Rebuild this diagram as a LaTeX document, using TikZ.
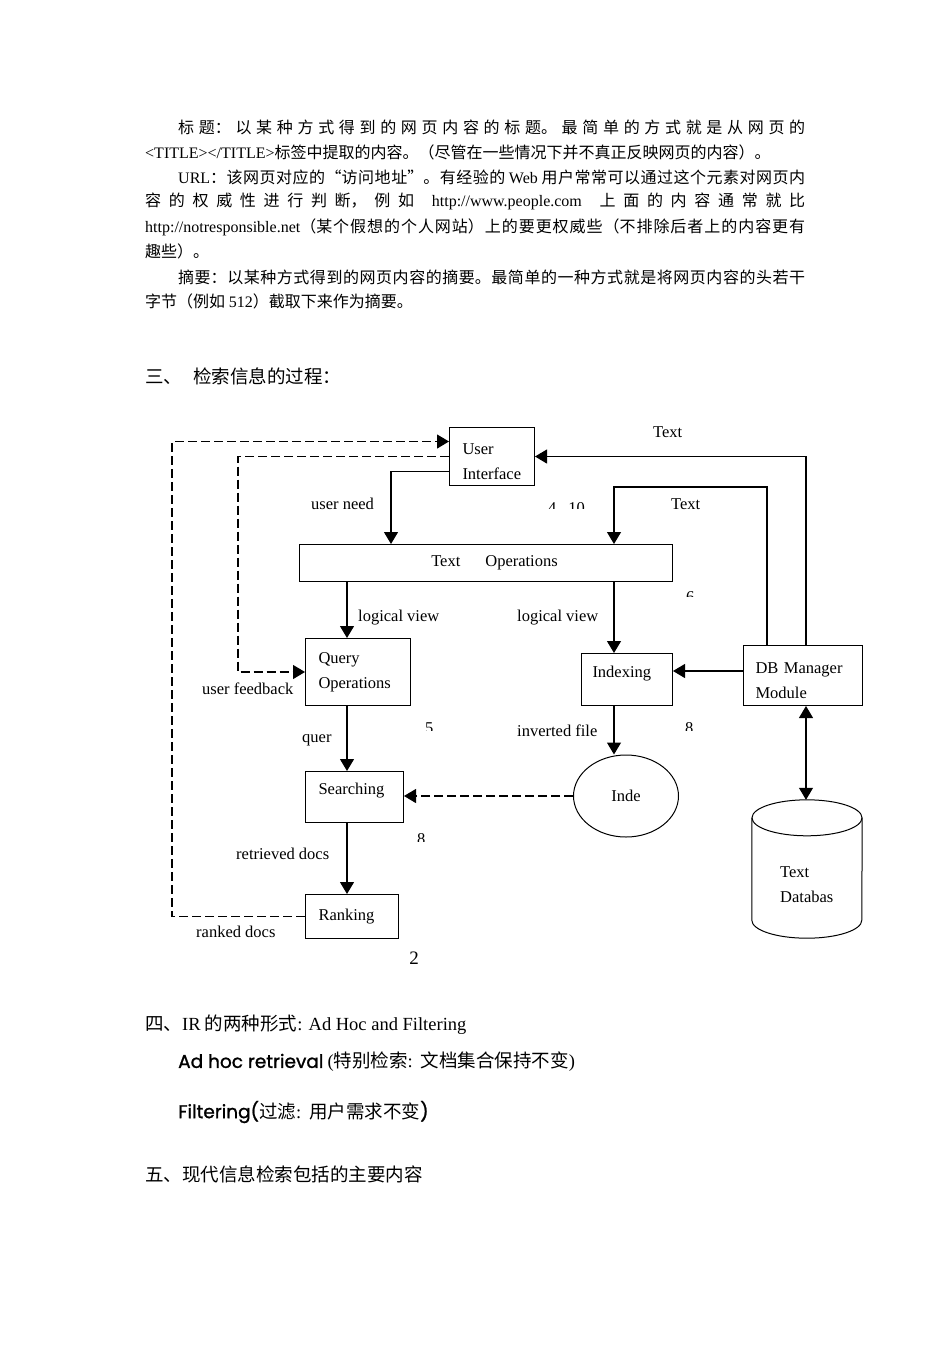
\documentclass[tikz,border=0pt]{standalone}
\usepackage{fontspec}
\setmainfont{Noto Sans CJK SC}
\newfontfamily\enf{Liberation Serif}
\newfontfamily\comic{Poppins}[FakeBold=1.2]
\usetikzlibrary{arrows.meta,calc,shapes.geometric}
\newcommand\en[1]{\mbox{\enf #1}}
\newcommand\dfont{\enf\fontsize{16.5}{25}\selectfont}
\newcommand\bfont{\fontsize{16}{25}\selectfont}
\newcommand\jl[2]{\parbox{#1}{\XeTeXlinebreaklocale "zh"\XeTeXlinebreakskip=0pt plus 8pt minus 0.5pt\relax\tolerance=10000\hbadness=10000\parfillskip=0pt\relax\noindent #2}}
\newcommand\frag[6]{\begin{scope}\clip (#2-2,#3) rectangle (#2+60,#3+#5);
  \node[anchor=north west,inner sep=0pt,font=\dfont] (#1) at (#2+#6,#3) {#4};\end{scope}}
\tikzset{
  box/.style={draw, line width=1pt, inner ysep=0pt, font=\dfont, align=left, anchor=north west},
  lbl/.style={font=\dfont, inner sep=0pt, anchor=west},
  conn/.style={line width=1.1pt, -{Triangle[length=12pt,width=14pt]}},
  dconn/.style={conn, dash pattern=on 9pt off 4pt},
  body/.style={font=\bfont, inner sep=0pt, anchor=west},
  head/.style={font=\fontsize{18.5}{22}\selectfont, inner sep=0pt, anchor=west},
}
\begin{document}
\begin{tikzpicture}[x=1pt,y=-1pt]
\fill[white] (0,0) rectangle (950,1345);
\useasboundingbox (0,0) rectangle (950,1345);

% ---------- body text ----------
\node[body] (l1) at (178,127) {\jl{627pt}{标题：以某种方式得到的网页内容的标题。最简单的方式就是从网页的}};
\node[body] (l2) at (145,152) {\en{<TITLE></TITLE>}标签中提取的内容。（尽管在一些情况下并不真正反映网页的内容）。};
\node[body] (l3) at (178,177) {\jl{627pt}{\en{URL}：该网页对应的“访问地址”。有经验的 \en{Web} 用户常常可以通过这个元素对网页内}};
\node[body] (l4) at (145,201) {\jl{660pt}{容的权威性进行判断，例如\hspace{12pt plus 6pt}\en{http://www.people.com}\hspace{12pt plus 6pt}上面的内容通常就比}};
\node[body] (l5) at (145,227) {\jl{660pt}{\en{http://notresponsible.net}（某个假想的个人网站）上的要更权威些（不排除后者上的内容更有}};
\node[body] (l6) at (145,251) {趣些）。};
\node[body] (l7) at (178,277) {\jl{627pt}{摘要：以某种方式得到的网页内容的摘要。最简单的一种方式就是将网页内容的头若干}};
\node[body] (l8) at (145,301) {字节（例如 \en{512}）截取下来作为摘要。};

\node[head] (h3) at (145,376) {三、\hspace{11pt}检索信息的过程：};

% ---------- diagram boxes ----------
\node[box, text width=59pt, inner xsep=13pt, minimum height=58pt] (ui) at (449,427) {\rule{0pt}{20.5pt}User\\Interface};
\node[box, text width=353pt, inner xsep=10pt, minimum height=37pt, align=center] (to) at (299,544) {\hspace*{17pt}Text\hspace{25pt}Operations};
\node[box, text width=79pt, inner xsep=13pt, minimum height=67pt] (qo) at (305,638) {Query\\Operations};
\node[box, text width=72pt, inner xsep=13pt, minimum height=51pt] (srch) at (305,771) {Searching\\[-8pt]\mbox{}};
\node[box, text width=67pt, inner xsep=13pt, minimum height=44pt] (rank) at (305,894) {Ranking};
\node[box, text width=69pt, inner xsep=11pt, minimum height=52pt] (idx) at (581,653) {Indexing\rule[-15pt]{0pt}{0pt}};
\node[box, text width=95pt, inner xsep=12pt, minimum height=60pt] (dbm) at (743,645) {\rule{0pt}{20.5pt}DB Manager\\Module};
\node[draw, ellipse, line width=1pt, minimum width=105pt, minimum height=82pt, inner sep=0pt, font=\dfont] (inde) at (626,796) {Inde};

% text database cylinder
\node[minimum width=110pt, minimum height=138pt, inner sep=0pt] (tdb) at (807,869) {};
\draw[line width=1pt] ($(tdb.north)+(0,18)$) ellipse [x radius=55pt, y radius=18pt];
\draw[line width=1pt] ($(tdb.north west)+(0,18)$) -- ($(tdb.south west)+(0,-18)$)
   arc[start angle=180, end angle=360, x radius=55pt, y radius=18pt] -- ($(tdb.north east)+(0,18)$);
\node[lbl, align=left] (tdbt) at (780,884.5) {Text\\Databas};

% ---------- helper coordinates ----------
\coordinate (cxa) at (347,0);
\coordinate (cxb) at (614,0);
\coordinate (cxn) at (391,0);
\coordinate (cxd) at (806,0);
\coordinate (cxe) at (767,0);
\coordinate (cyt) at (0,487);
\coordinate (cyd) at (0,671);

% ---------- connectors ----------
\draw[dconn] (rank.west) -- ++(-133,0) |- ([yshift=15pt]ui.west);
\draw[dconn] (ui.west) -- ++(-211,0) |- (qo.west);
\draw[conn] ([yshift=-15pt]ui.west) -| (cxn |- to.north);
\draw[conn] (cxa |- to.south) -- (cxa |- qo.north);
\draw[conn] (cxa |- qo.south) -- (cxa |- srch.north);
\draw[conn] (cxa |- srch.south) -- (cxa |- rank.north);
\draw[conn] (cxb |- to.south) -- (cxb |- idx.north);
\draw[conn] (cxb |- idx.south) -- (cxb |- inde.north);
\draw[conn] (dbm.west |- cyd) -- (idx.east |- cyd);
\draw[dconn] (inde.west) -- (srch.east |- inde.west);
\draw[conn] (cxd |- dbm.north) |- (ui.east);
\draw[conn] (cxe |- dbm.north) |- (cxb |- cyt) -- (cxb |- to.north);
\draw[line width=1.1pt, {Triangle[length=12pt,width=14pt]}-{Triangle[length=12pt,width=14pt]}] (cxd |- dbm.south) -- (cxd |- tdb.north);

% ---------- labels ----------
\node[lbl] (t1) at (653,432) {Text};
\node[lbl] (t2) at (671,504) {Text};
\node[lbl] (un) at (311,504) {user need};
\node[lbl] (lv1) at (358,618) {logical view};
\node[lbl] (lv2) at (517,618) {logical view};
\node[lbl] (uf) at (202,689) {user feedback};
\node[lbl] (qr) at (302,740) {quer};
\node[lbl] (inv) at (517,731) {inverted file};
\node[lbl] (rd) at (236,854) {retrieved docs};
\node[lbl] (rk) at (196,932) {ranked docs};
\node[font=\enf\fontsize{19}{19}\selectfont, inner sep=0pt] (pg) at (414,958) {2};

% clipped fragments of numbers
\frag{f1}{548}{502}{4\hspace{12pt}10}{6}{0}
\frag{f2}{686}{591}{6}{5}{0}
\frag{f3}{425}{722}{5}{8}{0}
\frag{f4}{685}{722}{8}{8}{0}
\frag{f5}{417}{833}{8}{8}{0}

% ---------- lower text ----------
\node[head] (h4) at (145,1025) {四、\en{IR} 的两种形式\en{: Ad Hoc and Filtering}};
\node[head] (adh) at (178,1062) {{\comic Ad hoc retrieval} \en{(}特别检索\en{:}\hspace{8pt}文档集合保持不变\en{)}};
\node[head] (flt) at (178,1112) {{\comic Filtering(}过滤\en{:}\hspace{8pt}用户需求不变{\comic )}};
\node[head] (h5) at (145,1174) {五、现代信息检索包括的主要内容};
\end{tikzpicture}
\end{document}
